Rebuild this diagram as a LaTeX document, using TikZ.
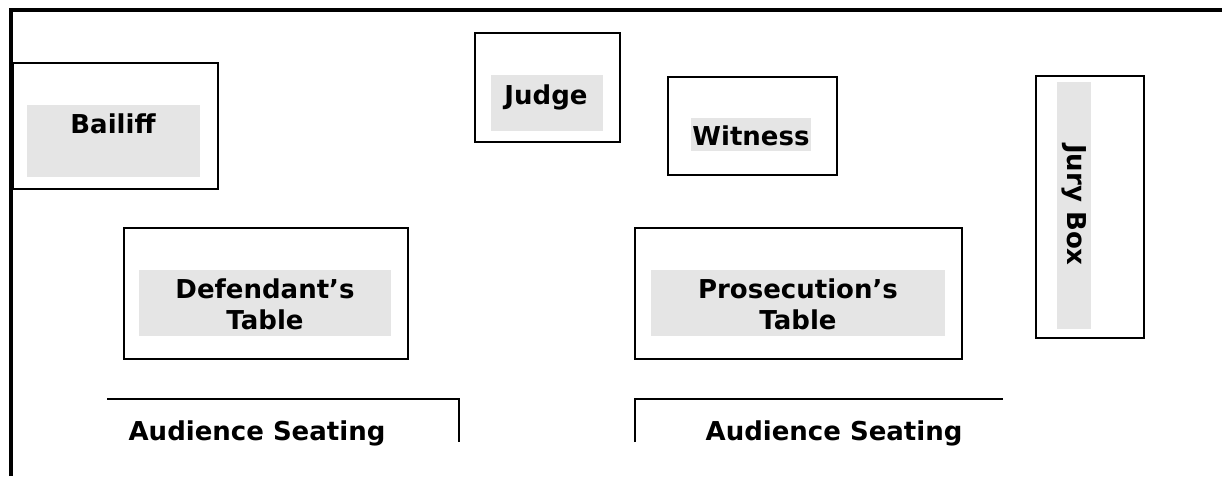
\documentclass[tikz,border=0pt]{standalone}
\usepackage{fontspec}
\setmainfont{DejaVu Sans}
\definecolor{lblgray}{RGB}{229,229,229}
\begin{document}
\begin{tikzpicture}[x=1pt,y=-1pt,
  area/.style={draw=black, line width=2pt, inner sep=0pt, anchor=north west},
  shade/.style={fill=lblgray, draw=none, inner sep=0pt, anchor=north west},
  lbl/.style={font=\fontsize{26}{31}\selectfont\bfseries, inner sep=0pt, align=center},
  wall/.style={line width=4pt},
  seat/.style={line width=1.6pt}]
\useasboundingbox (0,0) rectangle (1222,476);
% outer walls
\draw[wall] (11,476) -- (11,10) -- (1222,10);
% Bailiff
\node[area, minimum width=205pt, minimum height=126pt] (bailiffbox) at (12,62) {};
\node[shade, minimum width=173pt, minimum height=72pt] (bailiffbg) at (27,105) {};
\node[lbl] (bailiff) at (113,124) {Bailiff};
% Judge
\node[area, minimum width=145pt, minimum height=109pt] (judgebox) at (474,32) {};
\node[shade, minimum width=112pt, minimum height=56pt] (judgebg) at (491,75) {};
\node[lbl] (judge) at (546,97) {Judge};
% Witness
\node[area, minimum width=169pt, minimum height=98pt] (witnessbox) at (667,76) {};
\node[shade, minimum width=120pt, minimum height=33pt] (witnessbg) at (691,118) {};
\node[lbl] (witness) at (751,136) {Witness};
% Jury Box
\node[area, minimum width=108pt, minimum height=262pt] (jurybox) at (1035,75) {};
\node[shade, minimum width=34pt, minimum height=247pt] (jurybg) at (1057,82) {};
\node[lbl, rotate=-90] (jury) at (1074,205) {Jury Box};
% Defendant's table
\node[area, minimum width=284pt, minimum height=131pt] (defbox) at (123,227) {};
\node[shade, minimum width=252pt, minimum height=66pt] (defbg) at (139,270) {};
\node[lbl] (def) at (265,304) {Defendant’s\\Table};
% Prosecution's table
\node[area, minimum width=327pt, minimum height=131pt] (prosbox) at (634,227) {};
\node[shade, minimum width=294pt, minimum height=66pt] (prosbg) at (651,270) {};
\node[lbl] (pros) at (798,304) {Prosecution’s\\Table};
% Audience seating
\draw[seat] (107,399) -- (459,399) -- (459,442);
\node[lbl] (audl) at (257,433) {Audience Seating};
\draw[seat] (635,442) -- (635,399) -- (1003,399);
\node[lbl] (audr) at (834,433) {Audience Seating};
\end{tikzpicture}
\end{document}
